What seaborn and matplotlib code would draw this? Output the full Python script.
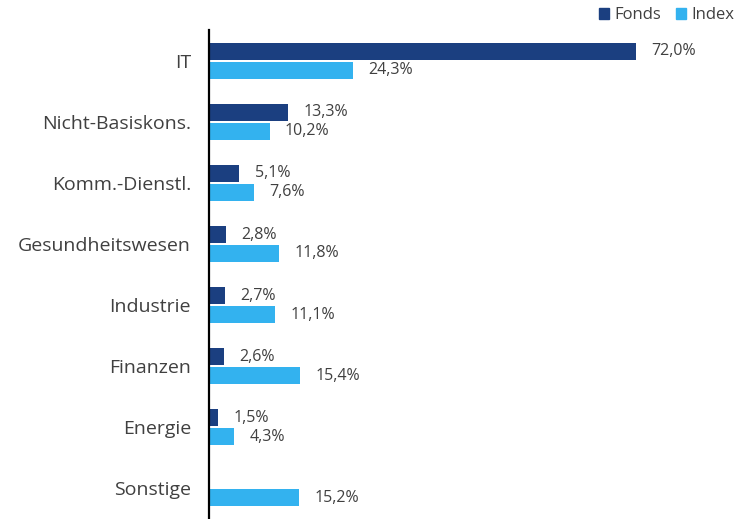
import pandas as pd
import matplotlib.pyplot as plt
import seaborn as sns
from matplotlib.patches import Patch

sectors = ["IT", "Nicht-Basiskons.", "Komm.-Dienstl.", "Gesundheitswesen",
           "Industrie", "Finanzen", "Energie", "Sonstige"]
fonds = [72.0, 13.3, 5.1, 2.8, 2.7, 2.6, 1.5, 0.0]
index = [24.3, 10.2, 7.6, 11.8, 11.1, 15.4, 4.3, 15.2]

df = pd.DataFrame({"Sektor": sectors * 2,
                   "Wert": fonds + index,
                   "Serie": ["Fonds"] * len(sectors) + ["Index"] * len(sectors)})

col_fonds = "#1b3f80"
col_index = "#33b2ef"
txt = "#404040"

sns.set_style("white")
plt.rcParams['font.family'] = ['Open Sans', 'DejaVu Sans']

fig = plt.figure(figsize=(7.49, 5.19), dpi=100)
ax = fig.add_axes([0.279, 0.0, 0.721, 0.942])

sns.barplot(data=df, y="Sektor", x="Wert", hue="Serie", order=sectors,
            palette={"Fonds": col_fonds, "Index": col_index}, saturation=1,
            width=0.62, gap=0.1, orient="h", ax=ax, legend=False, linewidth=0)

for cont, vals in zip(ax.containers, [fonds, index]):
    labels = [("" if v == 0 else f"{v:.1f}%".replace(".", ",")) for v in vals]
    ax.bar_label(cont, labels=labels, padding=11, fontsize=11.5, color=txt)

ax.set_xlim(0, 91)
ax.set_ylim(7.5, -0.5)
ax.set_xlabel("")
ax.set_ylabel("")
ax.set_xticks([])
ax.tick_params(axis="y", length=0, pad=13, labelsize=14, labelcolor=txt)
for s in ["top", "right", "bottom"]:
    ax.spines[s].set_visible(False)
ax.spines["left"].set_color("black")
ax.spines["left"].set_linewidth(1.6)

handles = [Patch(color=col_fonds, label="Fonds"), Patch(color=col_index, label="Index")]
fig.legend(handles=handles, loc="upper right", bbox_to_anchor=(1.0, 1.015), ncol=2,
           frameon=False, handlelength=0.6, handleheight=0.6, handletextpad=0.3,
           columnspacing=0.9, fontsize=12, labelcolor=txt)

fig.savefig("out.png", dpi=100)
